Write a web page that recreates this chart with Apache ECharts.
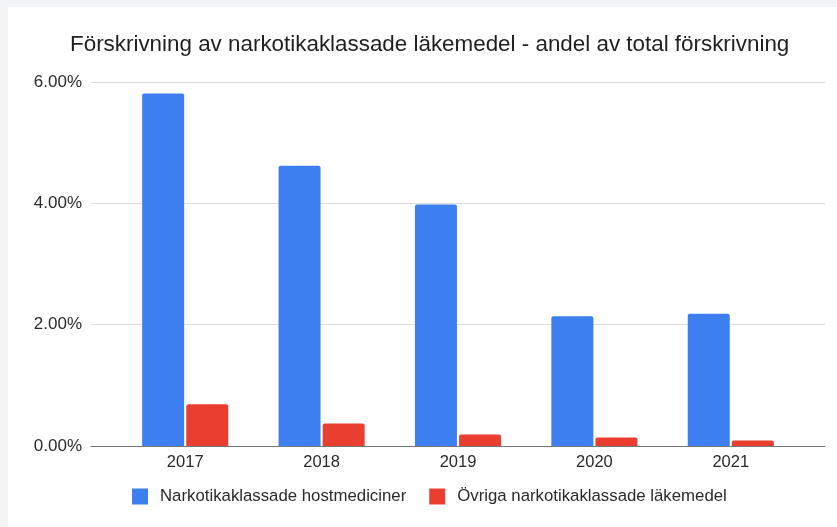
<!DOCTYPE html>
<html>
<head>
<meta charset="utf-8">
<script src="https://cdn.jsdelivr.net/npm/echarts@6/dist/echarts.min.js"></script>
<style>
  html, body { margin: 0; padding: 0; background: #f1f3f5; }
  #chart { width: 837px; height: 527px; }
</style>
</head>
<body>
<div id="chart"></div>
<script>
// Andel av total förskrivning (%), per år
const years = ['2017', '2018', '2019', '2020', '2021'];
const hostmediciner = [5.81, 4.62, 3.98, 2.14, 2.18];
const ovriga = [0.69, 0.37, 0.19, 0.14, 0.09];
const seriesNames = ['Narkotikaklassade hostmediciner', 'Övriga narkotikaklassade läkemedel'];
const yTicks = [0, 2, 4, 6];

const FONT = '"Liberation Sans", Arial, sans-serif';
const yMax = yTicks[yTicks.length - 1];
const yStep = yTicks[1] - yTicks[0];

const chart = echarts.init(document.getElementById('chart'), null, { renderer: 'canvas' });

chart.setOption({
  backgroundColor: '#f1f3f5',
  animation: false,
  textStyle: { fontFamily: FONT },
  graphic: [{
    type: 'rect',
    z: -10,
    shape: { x: 8, y: 7, width: 840, height: 530 },
    style: { fill: '#ffffff' }
  }],
  title: {
    text: 'Förskrivning av narkotikaklassade läkemedel - andel av total förskrivning',
    left: 65,
    top: 29,
    textStyle: { fontFamily: FONT, fontSize: 22.4, fontWeight: 'normal', color: '#1f1f1f' }
  },
  legend: {
    left: 132,
    top: 488,
    padding: 0,
    itemWidth: 16,
    itemHeight: 16,
    itemGap: 23,
    icon: 'rect',
    textStyle: { fontFamily: FONT, fontSize: 16.8, color: '#2a2a2a', padding: [0, 0, 0, 7] },
    data: seriesNames
  },
  grid: [
    // full-width plot area: gridlines and baseline
    { left: 91, right: 12, top: 82, bottom: 81 },
    // inner band for the year categories and bars
    { left: 117, right: 38, top: 82, bottom: 81 }
  ],
  xAxis: [
    {
      type: 'category', gridIndex: 0, data: years,
      axisLine: { show: true, lineStyle: { color: '#777', width: 1 } },
      axisTick: { show: false }, axisLabel: { show: false }, z: 5
    },
    {
      type: 'category', gridIndex: 1, data: years,
      axisLine: { show: false }, axisTick: { show: false },
      axisLabel: { fontFamily: FONT, fontSize: 16.5, color: '#2a2a2a', margin: 8 }
    }
  ],
  yAxis: [
    {
      type: 'value', gridIndex: 0, min: 0, max: yMax, interval: yStep,
      axisLine: { show: false }, axisTick: { show: false },
      axisLabel: {
        fontFamily: FONT, fontSize: 17, color: '#2a2a2a', margin: 9,
        formatter: v => v.toFixed(2) + '%'
      },
      splitLine: { lineStyle: { color: '#dcdcdc', width: 1 } }
    },
    {
      type: 'value', gridIndex: 1, min: 0, max: yMax, interval: yStep,
      show: false, splitLine: { show: false }
    }
  ],
  series: [
    {
      name: seriesNames[0], type: 'bar', xAxisIndex: 1, yAxisIndex: 1,
      data: hostmediciner, barWidth: 42, barGap: '5%',
      itemStyle: { color: '#3d7ff0', borderRadius: [2, 2, 0, 0] }
    },
    {
      name: seriesNames[1], type: 'bar', xAxisIndex: 1, yAxisIndex: 1,
      data: ovriga, barWidth: 42, barGap: '5%',
      itemStyle: { color: '#ea3f30', borderRadius: [2, 2, 0, 0] }
    }
  ]
});
</script>
</body>
</html>
